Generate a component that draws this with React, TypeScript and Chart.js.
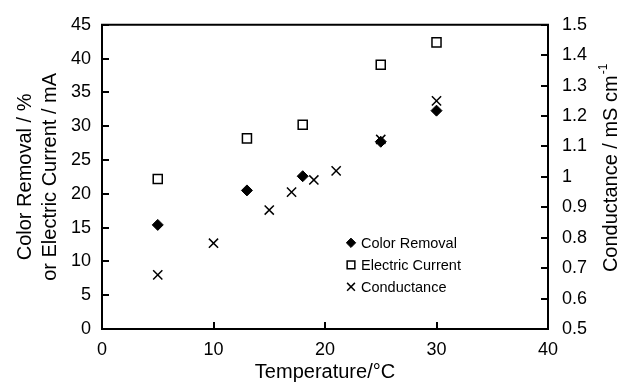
import React, { useEffect, useRef } from 'react';
import { Chart, registerables } from 'chart.js';
import { drawPoint } from 'chart.js/helpers';

Chart.register(...registerables);

// ---- data ----
const colorRemovalTemp = [5, 13, 18, 25, 30];
const colorRemoval = [15.4, 20.5, 22.6, 27.7, 32.3];
const currentTemp = [5, 13, 18, 25, 30];
const electricCurrent = [22.2, 28.2, 30.2, 39.1, 42.4];
const conductanceTemp = [5, 10, 15, 17, 19, 21, 25, 30];
const conductance = [0.678, 0.782, 0.891, 0.95, 0.99, 1.02, 1.123, 1.25];
const seriesLabels = ['Color Removal', 'Electric Current', 'Conductance'];
const xTitle = 'Temperature/°C';
const yLeftTitle = ['Color Removal / %', 'or Electric Current / mA'];
const yRightTitleMain = 'Conductance / mS cm';
const yRightTitleSup = '-1';

const FONT = '"Liberation Sans", Arial, Helvetica, sans-serif';

const toPoints = (xs: number[], ys: number[]) => xs.map((x, i) => ({ x, y: ys[i] }));

function tickPixels(scale: any): number[] {
  const out: number[] = [];
  const step = scale.options.ticks.stepSize;
  const n = Math.round((scale.max - scale.min) / step);
  for (let i = 0; i <= n; i++) {
    out.push(Math.round(scale.getPixelForValue(scale.min + i * step)));
  }
  return out;
}

const frameTicksLegend = {
  id: 'frameTicksLegend',
  afterDraw(chart: any) {
    const { ctx, chartArea } = chart;
    const xs = chart.scales.x;
    const yl = chart.scales.y;
    const yr = chart.scales.y2;
    ctx.save();
    ctx.strokeStyle = '#000';
    ctx.lineWidth = 2;

    // top frame line
    ctx.beginPath();
    ctx.moveTo(chartArea.left - 1, chartArea.top);
    ctx.lineTo(chartArea.right + 1, chartArea.top);
    ctx.stroke();

    // inward tick marks from the library's scales
    const TL = 7;
    const bottom = xs.top;
    const left = yl.right;
    const right = yr.left;
    ctx.beginPath();
    tickPixels(xs).forEach((p) => {
      ctx.moveTo(p, bottom);
      ctx.lineTo(p, bottom - TL);
    });
    tickPixels(yl).forEach((p) => {
      ctx.moveTo(left, p);
      ctx.lineTo(left + TL, p);
    });
    tickPixels(yr).forEach((p) => {
      ctx.moveTo(right, p);
      ctx.lineTo(right - TL, p);
    });
    ctx.stroke();
    ctx.restore();

    // right axis title (reads bottom-to-top, with superscript)
    ctx.save();
    ctx.fillStyle = '#000';
    const mainFont = `20px ${FONT}`;
    const supFont = `12px ${FONT}`;
    ctx.font = mainFont;
    const wMain = ctx.measureText(yRightTitleMain).width;
    ctx.font = supFont;
    const wSup = ctx.measureText(yRightTitleSup).width;
    const total = wMain + wSup + 1;
    const cx = yr.right - 9;
    const cy = (chartArea.top + chartArea.bottom) / 2 - 9;
    ctx.translate(cx, cy);
    ctx.rotate(-Math.PI / 2);
    ctx.textBaseline = 'middle';
    ctx.textAlign = 'left';
    ctx.font = mainFont;
    ctx.fillText(yRightTitleMain, -total / 2, 0);
    ctx.font = supFont;
    ctx.fillText(yRightTitleSup, -total / 2 + wMain + 1, -7);
    ctx.restore();

    // legend inside plot
    ctx.save();
    const x0 = chartArea.left + 249;
    const y0 = chartArea.top + 218;
    const gap = 22;
    ctx.font = `14.5px ${FONT}`;
    ctx.textBaseline = 'middle';
    ctx.textAlign = 'left';
    chart.data.datasets.forEach((ds: any, i: number) => {
      const y = y0 + i * gap;
      ctx.strokeStyle = ds.borderColor;
      ctx.fillStyle = ds.backgroundColor;
      ctx.lineWidth = ds.borderWidth;
      drawPoint(
        ctx,
        { pointStyle: ds.pointStyle, radius: ds.pointRadius * 0.85, rotation: 0, borderWidth: ds.borderWidth },
        x0,
        y
      );
      ctx.fillStyle = '#000';
      ctx.fillText(ds.label, x0 + 10, y + 1);
    });
    ctx.restore();
  },
};

export default function App() {
  const canvasRef = useRef<HTMLCanvasElement | null>(null);

  useEffect(() => {
    if (!canvasRef.current) return;
    const tickFont = { family: FONT, size: 18 };
    const titleFont = { family: FONT, size: 20 };
    const gridOpts = () => ({ display: true, drawOnChartArea: false, drawTicks: false, tickLength: 0 });
    const chart = new Chart(canvasRef.current, {
      type: 'scatter',
      data: {
        datasets: [
          {
            label: seriesLabels[0],
            data: toPoints(colorRemovalTemp, colorRemoval),
            pointStyle: 'rectRot',
            pointRadius: 5.5,
            backgroundColor: '#000',
            borderColor: '#000',
            borderWidth: 1,
            yAxisID: 'y',
            order: 0,
          },
          {
            label: seriesLabels[1],
            data: toPoints(currentTemp, electricCurrent),
            pointStyle: 'rect',
            pointRadius: 6.4,
            backgroundColor: '#fff',
            borderColor: '#000',
            borderWidth: 1.5,
            yAxisID: 'y',
            order: 1,
          },
          {
            label: seriesLabels[2],
            data: toPoints(conductanceTemp, conductance),
            pointStyle: 'crossRot',
            pointRadius: 6.5,
            backgroundColor: '#000',
            borderColor: '#000',
            borderWidth: 1.5,
            yAxisID: 'y2',
            order: 2,
          },
        ] as any,
      },
      options: {
        animation: false,
        responsive: true,
        maintainAspectRatio: false,
        layout: { padding: { top: 22, left: 0, right: 0, bottom: 0 } },
        plugins: {
          legend: { display: false },
          tooltip: { enabled: false },
        },
        scales: {
          x: {
            type: 'linear',
            position: 'bottom',
            min: 0,
            max: 40,
            ticks: { stepSize: 10, color: '#000', font: tickFont, padding: 10, maxRotation: 0 },
            grid: gridOpts(),
            border: { display: true, color: '#000', width: 2 },
            title: { display: true, text: xTitle, color: '#000', font: titleFont, padding: { top: 0, bottom: 0 } },
            afterFit: (s: any) => { s.height = 55; },
          },
          y: {
            type: 'linear',
            position: 'left',
            min: 0,
            max: 45,
            ticks: { stepSize: 5, color: '#000', font: tickFont, padding: 11 },
            grid: gridOpts(),
            border: { display: true, color: '#000', width: 2 },
            title: {
              display: true,
              text: yLeftTitle,
              color: '#000',
              font: { family: FONT, size: 20, lineHeight: 1.25 },
              padding: { top: 12.5, bottom: 0 },
            },
            afterFit: (s: any) => { s.width = 102; },
          },
          y2: {
            type: 'linear',
            position: 'right',
            min: 0.5,
            max: 1.5,
            ticks: {
              stepSize: 0.1,
              color: '#000',
              font: tickFont,
              padding: 14,
              callback: (v: any) => String(Number(Number(v).toFixed(1))),
            },
            grid: gridOpts(),
            border: { display: true, color: '#000', width: 2 },
            title: { display: false },
            afterFit: (s: any) => { s.width = 72; },
          },
        },
      } as any,
      plugins: [frameTicksLegend],
    });
    return () => chart.destroy();
  }, []);

  return (
    <div style={{ position: 'fixed', left: 0, top: 0, width: 620, height: 384, background: '#fff' }}>
      <canvas ref={canvasRef} />
    </div>
  );
}
